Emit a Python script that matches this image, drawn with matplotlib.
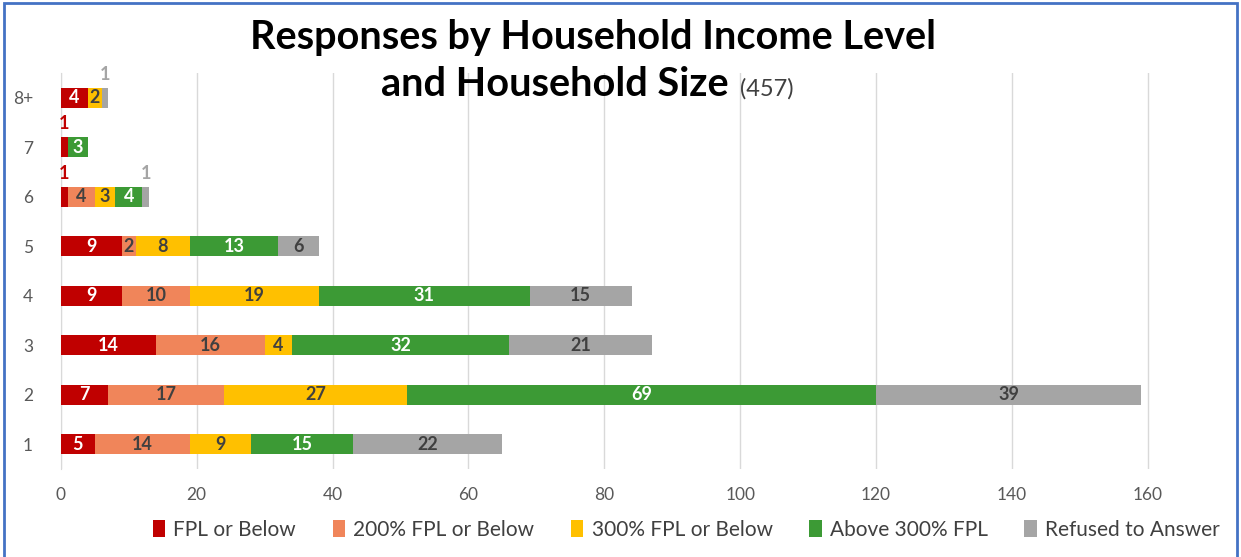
import numpy as np
import matplotlib.pyplot as plt
from matplotlib.patches import Rectangle

plt.rcParams['font.family'] = ['Lato', 'DejaVu Sans']

# household size categories (bottom to top)
sizes = ['1', '2', '3', '4', '5', '6', '7', '8+']
series_names = ['FPL or Below', '200% FPL or Below', '300% FPL or Below',
                'Above 300% FPL', 'Refused to Answer']
fpl = [5, 7, 14, 9, 9, 1, 1, 4]
fpl200 = [14, 17, 16, 10, 2, 4, 0, 0]
fpl300 = [9, 27, 4, 19, 8, 3, 0, 2]
above300 = [15, 69, 32, 31, 13, 4, 3, 0]
refused = [22, 39, 21, 15, 6, 1, 0, 1]

colors = ['#C00000', '#F0855A', '#FFC000', '#3C9A35', '#A5A5A5']
label_colors = ['white', '#404040', '#404040', 'white', '#404040']

fig = plt.figure(figsize=(12.41, 5.57), dpi=100)
ax = fig.add_axes([0.049, 0.158, 0.9307, 0.711])

y = np.arange(len(sizes))
left = np.zeros(len(sizes))
for vals, name, c, lc in zip([fpl, fpl200, fpl300, above300, refused],
                             series_names, colors, label_colors):
    vals = np.array(vals, dtype=float)
    ax.barh(y, vals, left=left, height=0.4, color=c, label=name, zorder=3)
    for i, v in enumerate(vals):
        if v == 0:
            continue
        cx = left[i] + v / 2
        if v == 1:
            ax.text(cx, y[i] + 0.47, '%d' % v, ha='center', va='center',
                    fontsize=13, fontweight='bold', color=c, zorder=4)
        else:
            ax.text(cx, y[i], '%d' % v, ha='center', va='center',
                    fontsize=13, fontweight='bold', color=lc, zorder=4)
    left += vals

ax.set_xlim(0, 170)
ax.set_ylim(-0.5, 7.5)
ax.set_xticks(np.arange(0, 161, 20))
ax.set_yticks(y)
ax.set_yticklabels(sizes)
ax.tick_params(axis='both', length=0, labelsize=12.5, labelcolor='#595959')
ax.tick_params(axis='x', pad=13)
ax.tick_params(axis='y', pad=20)
ax.grid(axis='x', color='#D9D9D9', linewidth=1, zorder=0)
for s in ['top', 'right', 'bottom']:
    ax.spines[s].set_visible(False)
ax.spines['left'].set_color('#D9D9D9')

fig.legend(loc='center', bbox_to_anchor=(0.553, 0.049), ncol=5, frameon=False,
           fontsize=15, handlelength=0.6, handleheight=0.9, handletextpad=0.4,
           columnspacing=1.75, labelcolor='#404040')

fig.text(0.478, 0.912, 'Responses by Household Income Level', ha='center',
         va='baseline', fontsize=28.5, fontweight='bold', color='black')
fig.text(0.587, 0.828, 'and Household Size', ha='right', va='baseline',
         fontsize=28.5, fontweight='bold', color='black')
fig.text(0.596, 0.828, '(457)', ha='left', va='baseline', fontsize=17,
         color='#404040')

fig.patches.append(Rectangle((0.003, -0.01), 0.994, 1.005, transform=fig.transFigure,
                             fill=False, edgecolor='#4472C4', linewidth=2))

fig.savefig('out.png', dpi=100)
